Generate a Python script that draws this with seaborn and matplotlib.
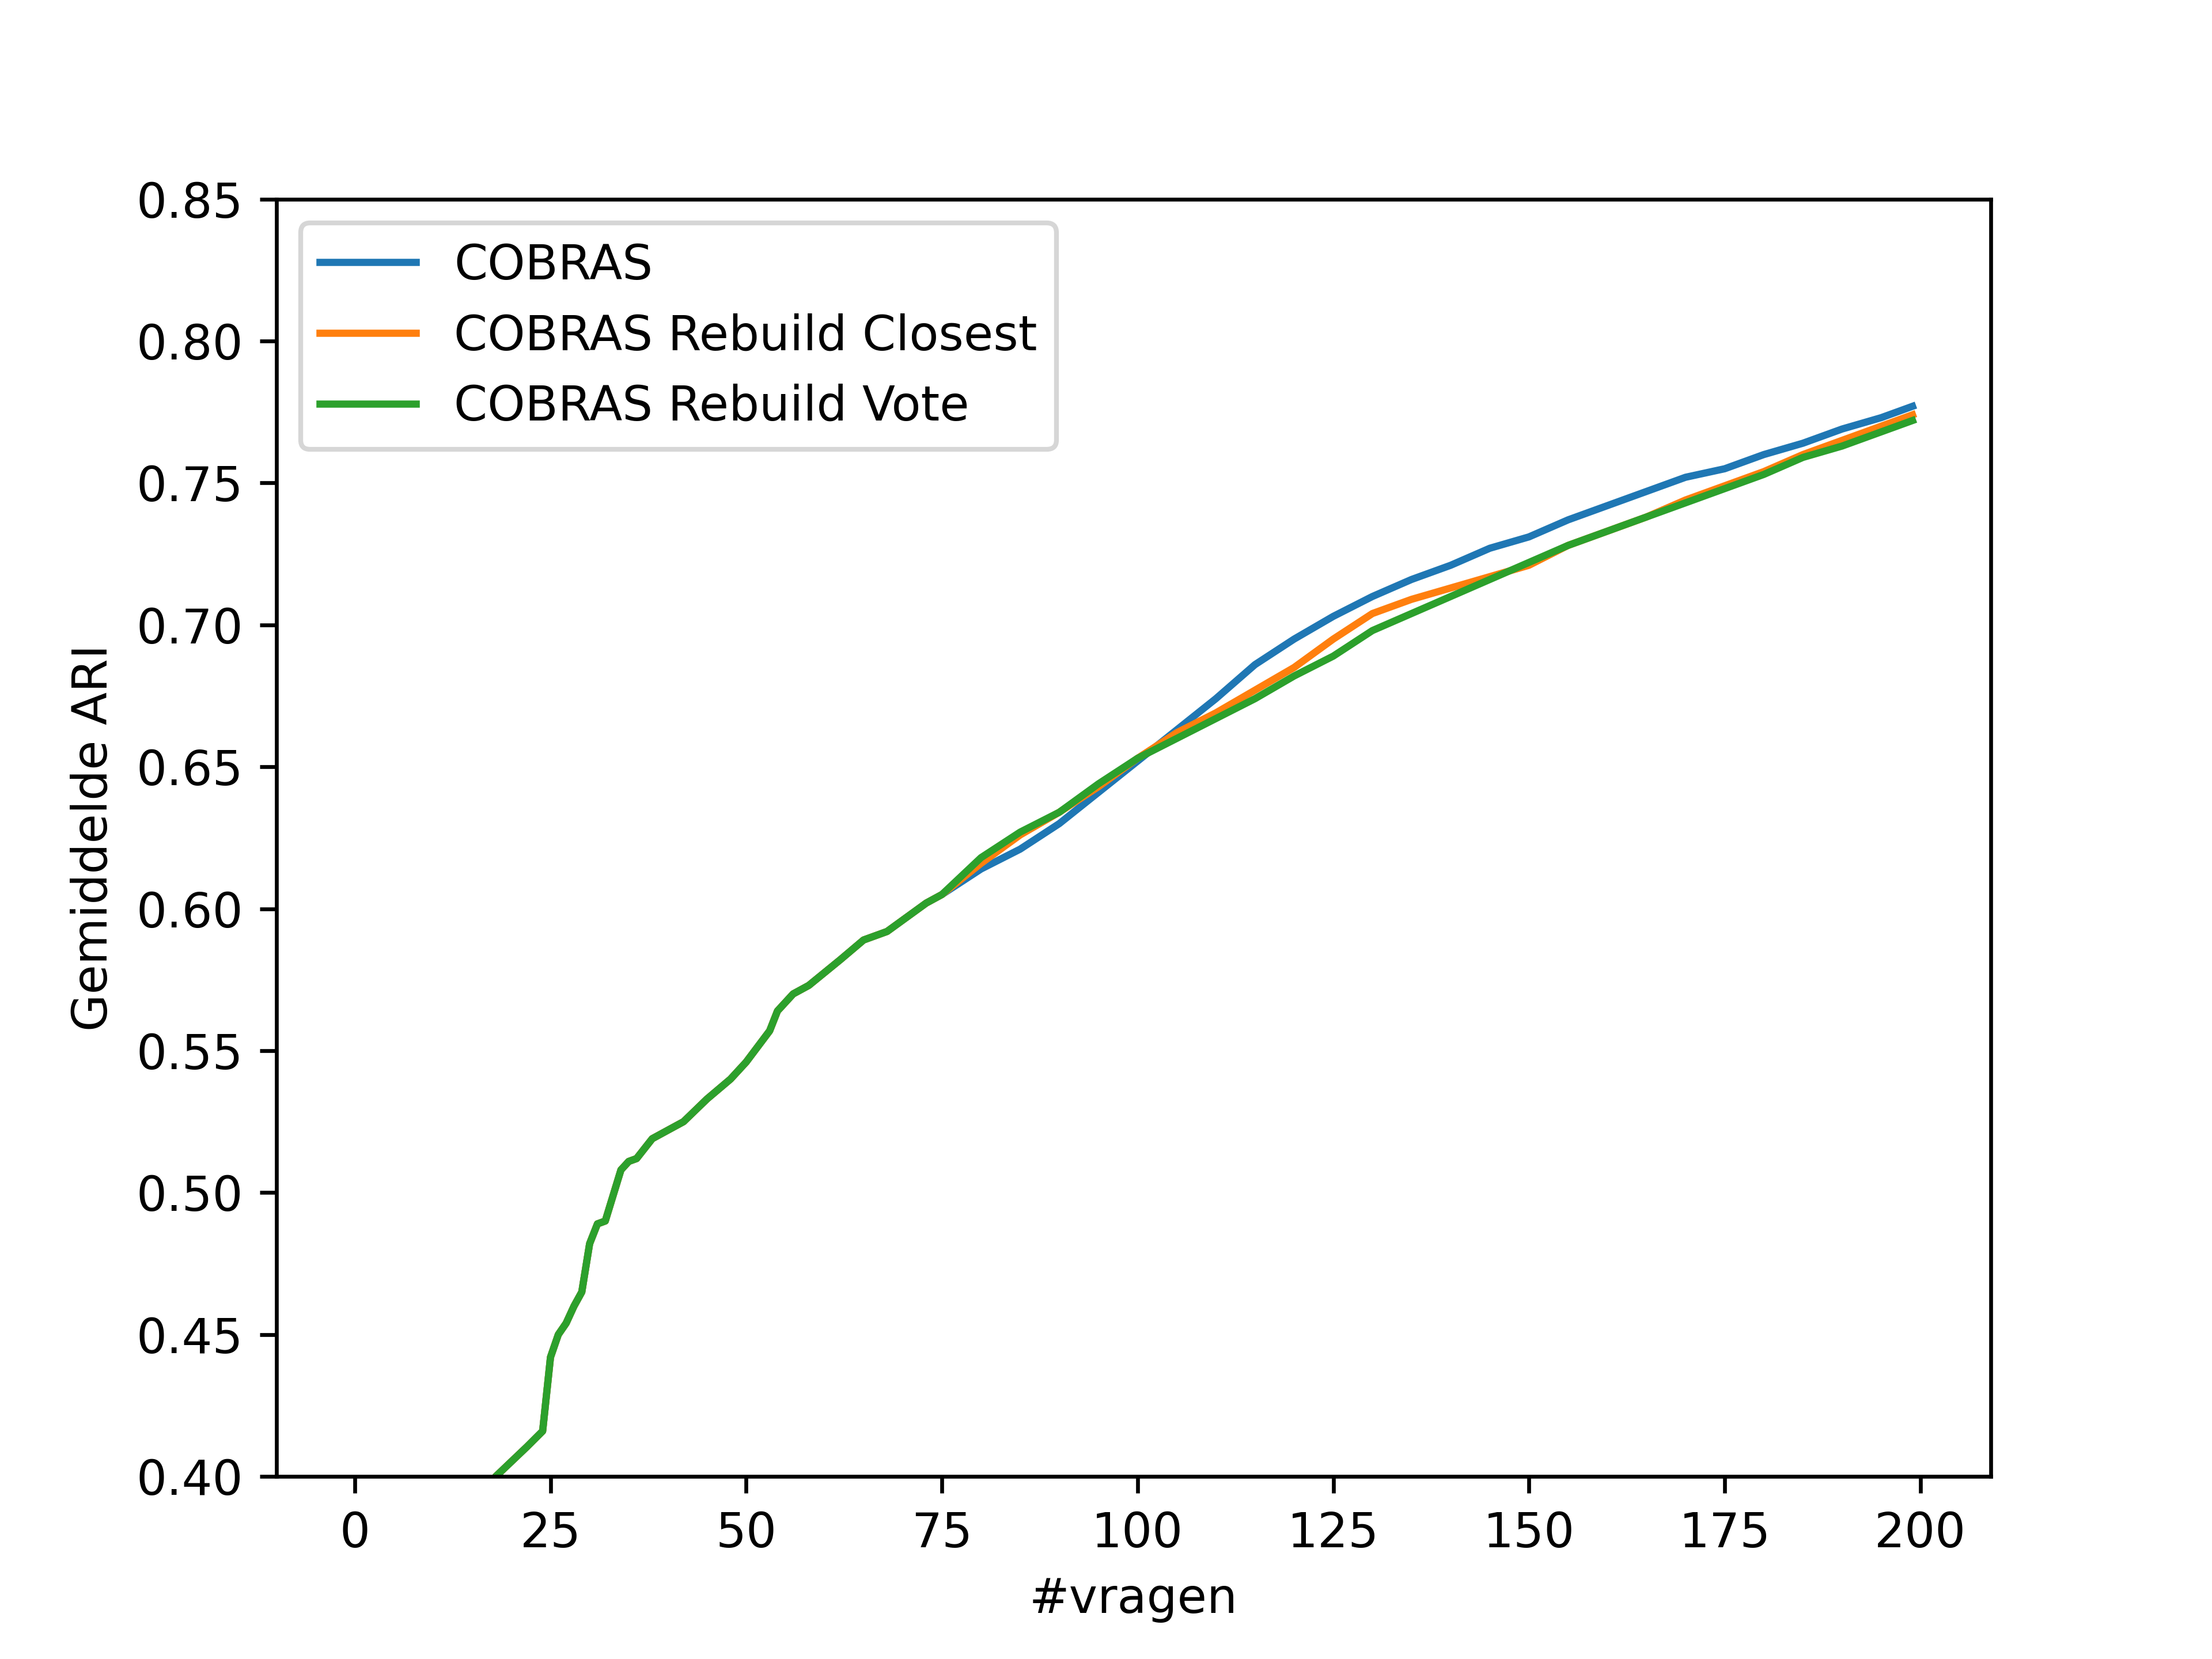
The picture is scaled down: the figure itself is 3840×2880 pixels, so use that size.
import matplotlib
matplotlib.use("Agg")
import matplotlib.pyplot as plt
import seaborn as sns
import pandas as pd

x_shared = [0, 10, 18, 22, 24, 25, 26, 27, 28, 29, 30, 31, 32, 33, 34, 35, 36, 38, 40, 42, 45, 48, 50, 53, 54, 56, 58, 62, 65, 68, 70, 73, 75]
y_shared = [0.0, 0.25, 0.40, 0.4105, 0.416, 0.442, 0.450, 0.454, 0.460, 0.465, 0.482, 0.489, 0.490, 0.499, 0.508, 0.511, 0.512, 0.519, 0.522, 0.525, 0.533, 0.540, 0.546, 0.557, 0.564, 0.570, 0.573, 0.582, 0.589, 0.592, 0.596, 0.602, 0.605]

x_tail = [80, 85, 90, 95, 100, 105, 110, 115, 120, 125, 130, 135, 140, 145, 150, 155, 160, 165, 170, 175, 180, 185, 190, 195, 199]
y_cobras = [0.614, 0.621, 0.630, 0.641, 0.652, 0.663, 0.674, 0.686, 0.695, 0.703, 0.710, 0.716, 0.721, 0.727, 0.731, 0.737, 0.742, 0.747, 0.752, 0.755, 0.760, 0.764, 0.769, 0.773, 0.777]
y_closest = [0.616, 0.626, 0.634, 0.643, 0.653, 0.662, 0.669, 0.677, 0.685, 0.695, 0.704, 0.709, 0.713, 0.717, 0.721, 0.728, 0.733, 0.738, 0.744, 0.749, 0.754, 0.760, 0.765, 0.770, 0.774]
y_vote = [0.618, 0.627, 0.634, 0.644, 0.653, 0.660, 0.667, 0.674, 0.682, 0.689, 0.698, 0.704, 0.710, 0.716, 0.722, 0.728, 0.733, 0.738, 0.743, 0.748, 0.753, 0.759, 0.763, 0.768, 0.772]

names = ["COBRAS", "COBRAS Rebuild Closest", "COBRAS Rebuild Vote"]
colors = ["#1f77b4", "#ff7f0e", "#2ca02c"]

fig, ax = plt.subplots(figsize=(6.4, 4.8), dpi=600)
for name, tail, c in zip(names, [y_cobras, y_closest, y_vote], colors):
    df = pd.DataFrame({"x": x_shared + x_tail, "y": y_shared + tail})
    sns.lineplot(data=df, x="x", y="y", ax=ax, color=c, label=name, linewidth=1.5)

ax.set_ylim(0.40, 0.85)
ax.set_xlim(-10, 209)
ax.set_xticks([0, 25, 50, 75, 100, 125, 150, 175, 200])
ax.set_yticks([0.40, 0.45, 0.50, 0.55, 0.60, 0.65, 0.70, 0.75, 0.80, 0.85])
ax.set_xlabel("#vragen")
ax.set_ylabel("Gemiddelde ARI")
ax.legend(loc="upper left")
fig.savefig("out.png", dpi=600)
